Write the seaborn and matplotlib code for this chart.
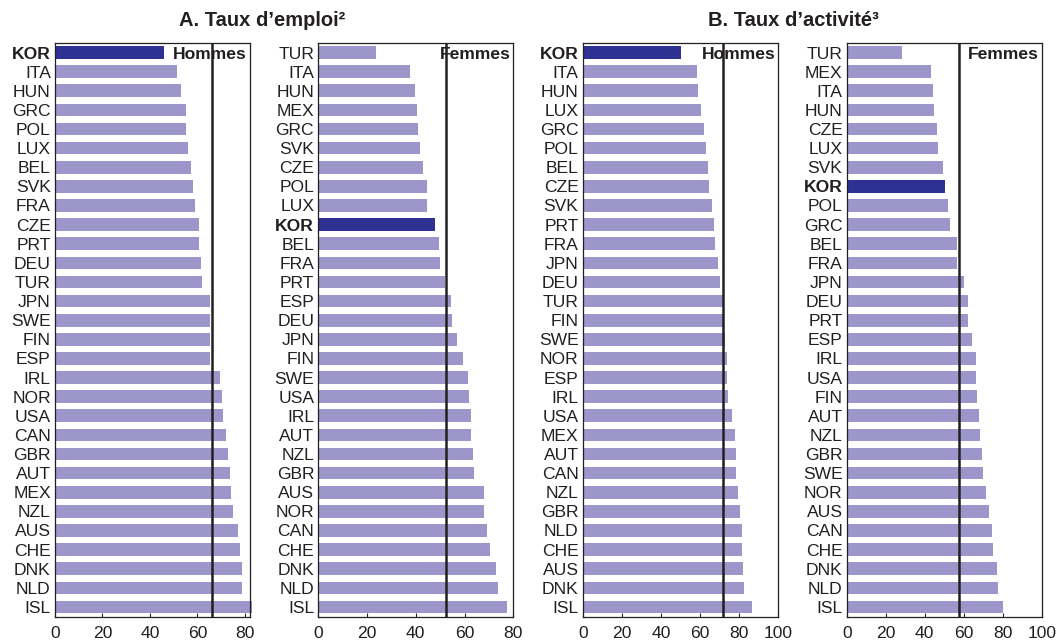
import matplotlib
matplotlib.use("Agg")
import matplotlib.pyplot as plt
import seaborn as sns
import pandas as pd

# ---- Data ----
emp_men_countries = ["KOR", "ITA", "HUN", "GRC", "POL", "LUX", "BEL", "SVK", "FRA", "CZE",
                     "PRT", "DEU", "TUR", "JPN", "SWE", "FIN", "ESP", "IRL", "NOR", "USA",
                     "CAN", "GBR", "AUT", "MEX", "NZL", "AUS", "CHE", "DNK", "NLD", "ISL"]
emp_men_values = [46.1, 51.5, 53.2, 55.3, 55.3, 56.1, 57.3, 58.1, 59.1, 60.8,
                  60.8, 61.4, 61.9, 65.2, 65.3, 65.4, 65.4, 69.7, 70.5, 70.8,
                  72.0, 72.9, 73.8, 74.3, 75.2, 77.0, 77.9, 78.7, 78.7, 83.2]
emp_men_ref = 66.0

emp_women_countries = ["TUR", "ITA", "HUN", "MEX", "GRC", "SVK", "CZE", "POL", "LUX", "KOR",
                       "BEL", "FRA", "PRT", "ESP", "DEU", "JPN", "FIN", "SWE", "USA", "IRL",
                       "AUT", "NZL", "GBR", "AUS", "NOR", "CAN", "CHE", "DNK", "NLD", "ISL"]
emp_women_values = [23.5, 37.6, 39.7, 40.5, 40.9, 41.6, 42.8, 44.5, 44.6, 48.0,
                    49.7, 49.9, 52.1, 54.6, 55.0, 56.8, 59.4, 61.4, 61.7, 62.5,
                    62.8, 63.6, 63.9, 68.1, 68.1, 69.1, 70.5, 73.0, 73.6, 77.3]
emp_women_ref = 52.3

act_men_countries = ["KOR", "ITA", "HUN", "LUX", "GRC", "POL", "BEL", "CZE", "SVK", "PRT",
                     "FRA", "JPN", "DEU", "TUR", "FIN", "SWE", "NOR", "ESP", "IRL", "USA",
                     "MEX", "AUT", "CAN", "NZL", "GBR", "NLD", "CHE", "AUS", "DNK", "ISL"]
act_men_values = [50.4, 58.3, 58.9, 60.3, 62.2, 63.2, 63.9, 64.6, 66.1, 67.1,
                  67.5, 69.3, 70.0, 71.6, 71.6, 72.9, 73.6, 73.6, 74.3, 76.1,
                  77.9, 78.2, 78.5, 79.6, 80.2, 81.4, 81.4, 81.8, 82.5, 86.7]
act_men_ref = 71.9

act_women_countries = ["TUR", "MEX", "ITA", "HUN", "CZE", "LUX", "SVK", "KOR", "POL", "GRC",
                       "BEL", "FRA", "JPN", "DEU", "PRT", "ESP", "IRL", "USA", "FIN", "AUT",
                       "NZL", "GBR", "SWE", "NOR", "AUS", "CAN", "CHE", "DNK", "NLD", "ISL"]
act_women_values = [28.2, 43.2, 44.3, 44.6, 46.5, 46.8, 49.2, 50.6, 51.8, 52.8,
                    56.5, 56.5, 60.2, 62.1, 62.1, 64.3, 66.2, 66.2, 66.7, 67.9,
                    68.2, 69.6, 70.1, 71.3, 72.8, 74.4, 75.0, 76.9, 77.8, 80.3]
act_women_ref = 57.4

panel_labels = ["Hommes", "Femmes", "Hommes", "Femmes"]
titles = ["A. Taux d\u2019emploi\u00b2", "B. Taux d\u2019activit\u00e9\u00b3"]
xticks_sets = [[0, 20, 40, 60, 80], [0, 20, 40, 60, 80],
               [0, 20, 40, 60, 80, 100], [0, 20, 40, 60, 80, 100]]
xlims = [(0, 82.2), (0, 80), (0, 100), (0, 100)]

# ---- Style ----
sns.set_theme(style="white")
plt.rcParams["font.family"] = ["Liberation Sans", "DejaVu Sans"]
TXT = "#231f20"
LIGHT = "#9c96ca"
DARK = "#2e3192"

fig = plt.figure(figsize=(10.62, 6.40), dpi=100)
W, H = 1062, 640
lefts = [55, 318.3, 582.7, 846.7]
widths = [195, 195, 195.6, 195]
top, bottom = 43, 616.5

panels = [
    (emp_men_countries, emp_men_values, emp_men_ref),
    (emp_women_countries, emp_women_values, emp_women_ref),
    (act_men_countries, act_men_values, act_men_ref),
    (act_women_countries, act_women_values, act_women_ref),
]

for i, (cats, vals, ref) in enumerate(panels):
    ax = fig.add_axes([lefts[i] / W, 1 - bottom / H, widths[i] / W, (bottom - top) / H])
    df = pd.DataFrame({"country": cats, "value": vals})
    pal = {c: (DARK if c == "KOR" else LIGHT) for c in cats}
    sns.barplot(data=df, x="value", y="country", hue="country", palette=pal,
                order=cats, hue_order=cats, legend=False, width=0.66,
                saturation=1, orient="h", ax=ax)
    for p in ax.patches:
        p.set_edgecolor("none")
        if p.get_width() > xlims[i][1]:
            p.set_clip_on(False)
    ax.set_xlim(*xlims[i])
    ax.set_ylim(len(cats) - 0.5, -0.5)
    ax.axvline(ref, color=TXT, lw=1.8, zorder=3)
    ax.set_xlabel("")
    ax.set_ylabel("")
    ax.set_xticks(xticks_sets[i])
    ax.set_xticklabels([str(t) for t in xticks_sets[i]])
    ax.tick_params(axis="x", direction="in", length=3, width=0.8, color=TXT,
                   labelsize=12.6, labelcolor=TXT, pad=6.5, bottom=True)
    ax.tick_params(axis="y", length=0, labelsize=12.6, labelcolor=TXT, pad=3)
    for lab in ax.get_yticklabels():
        if lab.get_text() == "KOR":
            lab.set_fontweight("bold")
    for s in ax.spines.values():
        s.set_visible(True)
        s.set_color(TXT)
        s.set_linewidth(0.9)
    ax.text(0.985, 0.993, panel_labels[i], transform=ax.transAxes, ha="right", va="top",
            fontsize=12.6, fontweight="bold", color=TXT, zorder=5)

fig.text(262 / W, 1 - 20 / H, titles[0], ha="center", va="center",
         fontsize=14.5, fontweight="bold", color=TXT)
fig.text(793 / W, 1 - 20 / H, titles[1], ha="center", va="center",
         fontsize=14.5, fontweight="bold", color=TXT)

fig.savefig("out.png", dpi=100)
